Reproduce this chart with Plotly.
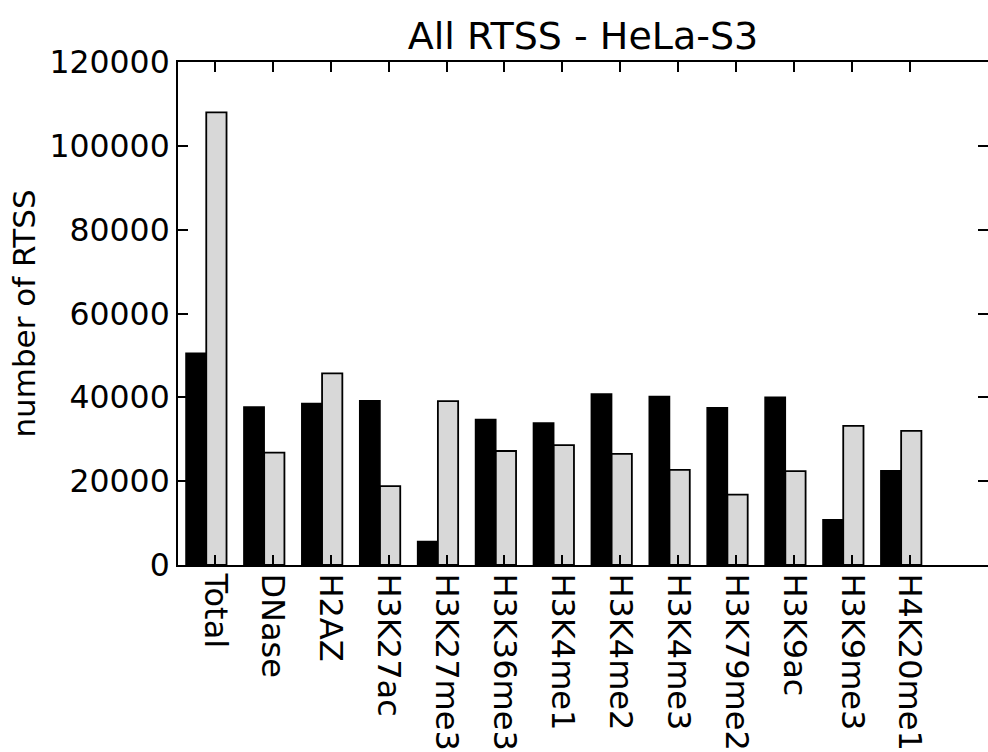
import plotly.graph_objects as go

categories = ["Total", "DNase", "H2AZ", "H3K27ac", "H3K27me3", "H3K36me3", "H3K4me1",
              "H3K4me2", "H3K4me3", "H3K79me2", "H3K9ac", "H3K9me3", "H4K20me1"]
black_vals = [50500, 37700, 38500, 39200, 5600, 34700, 33900, 40800, 40200, 37500, 40000, 10800, 22500]
gray_vals = [108000, 26800, 45700, 18800, 39100, 27200, 28600, 26500, 22700, 16800, 22400, 33200, 32000]
y_ticks = [0, 20000, 40000, 60000, 80000, 100000, 120000]

bar_w = 0.35
idx = list(range(len(categories)))
x_black = [i + bar_w / 2 for i in idx]
x_gray = [i + bar_w * 1.5 for i in idx]
x_ticks = [i + 0.5 for i in idx]

FONT = "DejaVu Sans"

fig = go.Figure()
fig.add_trace(go.Bar(x=x_black, y=black_vals, width=bar_w,
                     marker=dict(color="black", line=dict(color="black", width=1.5)),
                     showlegend=False))
fig.add_trace(go.Bar(x=x_gray, y=gray_vals, width=bar_w,
                     marker=dict(color="#d8d8d8", line=dict(color="black", width=1.8)),
                     showlegend=False))
# invisible trace for right-side tick axis
fig.add_trace(go.Scatter(x=[x_ticks[0]], y=[0], yaxis="y2", mode="markers",
                         marker=dict(opacity=0), showlegend=False, hoverinfo="skip"))

fig.update_layout(
    width=988, height=752,
    margin=dict(l=178, r=0, t=62, b=187),
    paper_bgcolor="white", plot_bgcolor="white",
    barmode="overlay",
    font=dict(family=FONT, size=31, color="black"),
    title=dict(text="All RTSS - HeLa-S3", x=0.5, xref="paper", xanchor="center",
               y=1, yref="paper", yanchor="bottom", pad=dict(b=13),
               font=dict(family=FONT, size=38, color="black")),
    xaxis=dict(range=[-0.138, 13.85], tickmode="array", tickvals=x_ticks, ticktext=categories,
               tickangle=90, ticks="inside", ticklen=10, tickwidth=1.5, tickcolor="black",
               showline=True, linecolor="black", linewidth=2, mirror="ticks",
               showgrid=False, zeroline=False,
               tickfont=dict(family=FONT, size=32, color="black")),
    yaxis=dict(range=[0, 120000], tickmode="array", tickvals=y_ticks,
               ticktext=[str(v) for v in y_ticks],
               ticks="inside", ticklen=10, tickwidth=1.5, tickcolor="black",
               showline=True, linecolor="black", linewidth=2,
               showgrid=False, zeroline=False,
               tickfont=dict(family=FONT, size=31.5, color="black"),
               title=dict(text="number of RTSS", standoff=5,
                          font=dict(family=FONT, size=31, color="black"))),
    yaxis2=dict(range=[0, 120000], overlaying="y", side="right", anchor="x",
                tickmode="array", tickvals=y_ticks, showticklabels=False,
                ticks="inside", ticklen=10, tickwidth=1.5, tickcolor="black",
                showline=False, showgrid=False, zeroline=False),
)

fig.write_html("out.html")
